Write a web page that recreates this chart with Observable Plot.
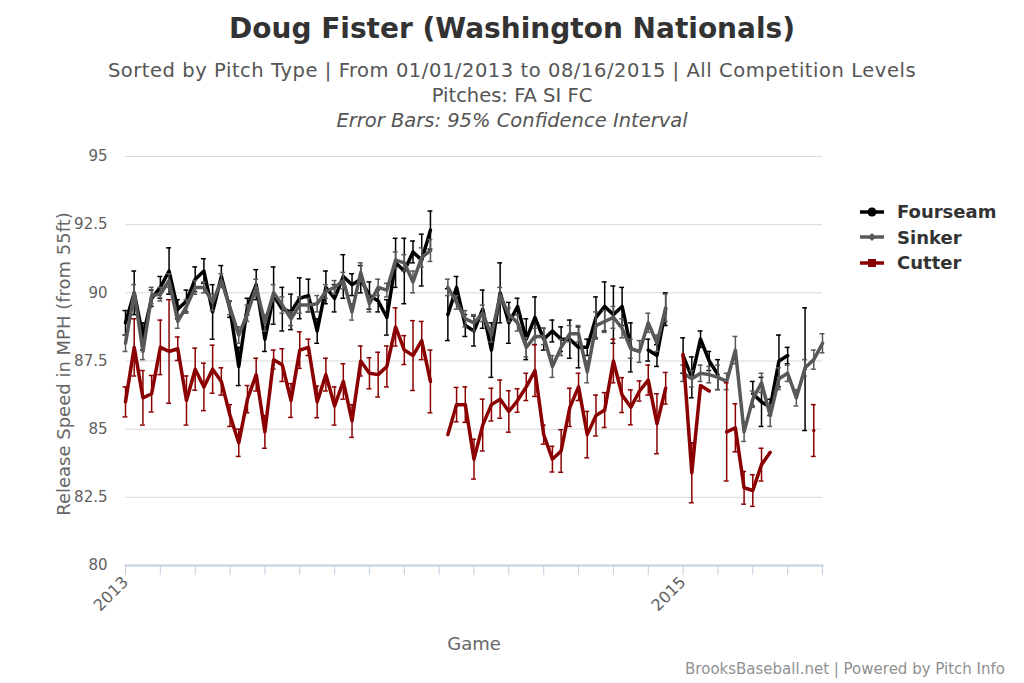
<!DOCTYPE html>
<html>
<head>
<meta charset="utf-8">
<script src="https://cdn.jsdelivr.net/npm/d3@7"></script>
<script src="https://cdn.jsdelivr.net/npm/@observablehq/plot@0.6"></script>
<style>
  html, body { margin: 0; padding: 0; background: #fff; }
  body { width: 1024px; height: 683px; position: relative; overflow: hidden; font-family: "DejaVu Sans", sans-serif; }
  .abs { position: absolute; white-space: nowrap; }
  #chart { position: absolute; left: 0; top: 0; }
</style>
</head>
<body>
<div id="chart"></div>
<div class="abs" id="title" style="left:0;width:1024px;top:12px;text-align:center;font-size:28px;font-weight:bold;color:#333;">Doug Fister (Washington Nationals)</div>
<div class="abs" style="left:0;width:1024px;top:58px;text-align:center;font-size:19.5px;color:#555;line-height:25px;"><span style="letter-spacing:0.55px">Sorted by Pitch Type | From 01/01/2013 to 08/16/2015 | All Competition Levels</span><br>Pitches: FA SI FC<br><i>Error Bars: 95% Confidence Interval</i></div>
<div class="abs" style="left:0;top:0;transform:translate(63px,364px) translate(-50%,-50%) rotate(-90deg);font-size:18px;color:#666;">Release Speed in MPH (from 55ft)</div>
<div class="abs" style="left:474px;top:633px;transform:translateX(-50%);font-size:18px;color:#666;">Game</div>
<div class="abs" style="right:19px;top:660px;font-size:15px;color:#909090;">BrooksBaseball.net | Powered by Pitch Info</div>
<div class="abs" id="legend" style="left:858px;top:199px;"></div>
<script>
// ---- data ----
const seriesNames = ["Fourseam", "Sinker", "Cutter"];
const seriesColors = ["#000000", "#585858", "#8b0000"];

const fourseam = [88.9, 90.0, 88.4, 89.8, 90.2, 90.8, 89.4, 89.7, 90.5, 90.8, 89.3, 90.6, 89.4, 87.3,
  89.5, 90.3, 88.3, 89.9, 89.4, 89.3, 89.8, 89.9, 88.6, 90.2, 89.8, 90.6, 90.3,
  90.5, 89.9, 89.7, 89.1, 91.1, 90.8, 91.5, 91.2, 92.3, null,
  89.2, 90.2, 88.8, 88.6, 89.4, 87.9, 90.0, 88.9, 89.5, 88.3, 89.1, 88.3, 88.6, 88.3, 88.3, 88.0, 88.0,
  89.1, 89.5, 89.2, 89.5, 88.0, null, 87.9, 87.7, 89.4, null,
  87.7, 86.9, 88.3, 87.5, 87.0, null, null, null, 86.3, 86.0, 85.8, 87.5, 87.7, null, 87.2, null, null];
const fourseamErr = [0.45, 0.8, 0.5, 0.3, 0.4, 0.85, 0.35, 0.4, 0.45, 0.45, 1.0, 0.4, 0.3, 0.7,
  0.3, 0.55, 0.45, 1.05, 0.8, 0.65, 0.75, 0.6, 0.45, 0.6, 0.5, 0.8, 0.4,
  0.5, 0.5, 0.4, 0.65, 0.9, 1.2, 0.4, 0.95, 0.7, null,
  0.95, 0.4, 0.4, 0.55, 0.7, 1.0, 1.1, 0.75, 0.3, 0.75, 0.75, 0.4, 0.4, 0.45, 0.7, 0.75, 0.3,
  0.75, 0.9, 1.05, 0.7, 0.9, null, 0.4, 0.4, 0.6, null,
  0.65, 0.75, 0.3, 0.35, 0.55, null, null, null, 0.45, 0.9, 0.3, 0.95, 0.3, null, 2.25, null, null];

const sinker = [88.15, 90.0, 87.85, 89.9, 89.95, 90.45, 88.95, 89.5, 90.2, 90.2, 89.65, 90.45, 89.45, 88.45,
  89.25, 90.2, 88.9, 90.0, 89.55, 89.05, 89.55, 89.55, 89.6, 90.05, 90.2, 90.45, 89.3,
  90.75, 89.6, 90.2, 90.1, 91.2, 91.1, 90.4, 91.3, 91.55, null,
  90.2, 89.65, 89.05, 88.9, 89.25, 88.45, 89.9, 89.2, 88.9, 88.0, 88.4, 88.4, 87.3, 88.0, 88.5, 88.5, 87.1,
  88.8, 88.95, 89.1, 88.7, 87.95, 87.85, 88.9, 88.15, 89.45, null,
  87.05, 86.85, 87.05, 87.0, 86.9, 86.75, 87.9, 84.9, 86.1, 86.7, 85.5, 86.85, 87.05, 86.15, 87.25, 87.55, 88.15];
const sinkerErr = [0.3, 0.3, 0.3, 0.3, 0.25, 0.25, 0.25, 0.25, 0.25, 0.2, 0.3, 0.25, 0.25, 0.3,
  0.3, 0.3, 0.3, 0.3, 0.3, 0.25, 0.3, 0.25, 0.3, 0.25, 0.25, 0.3, 0.3,
  0.35, 0.3, 0.3, 0.25, 0.3, 0.3, 0.4, 0.35, 0.4, null,
  0.3, 0.25, 0.3, 0.3, 0.3, 0.25, 0.3, 0.25, 0.3, 0.35, 0.3, 0.3, 0.4, 0.3, 0.3, 0.3, 0.4,
  0.5, 0.4, 0.4, 0.35, 0.35, 0.4, 0.35, 0.3, 0.5, null,
  0.3, 0.3, 0.3, 0.3, 0.45, 0.3, 0.5, 0.35, 0.3, 0.35, 0.4, 0.4, 0.3, 0.3, 0.3, 0.35, 0.35];

const cutter = [86.0, 88.0, 86.15, 86.3, 88.0, 87.85, 87.95, 86.05, 87.2, 86.55, 87.2, 86.75, 85.5, 84.5,
  86.1, 87.0, 84.9, 87.55, 87.35, 86.05, 87.9, 88.0, 86.0, 87.0, 85.85, 86.75, 85.3,
  87.5, 87.05, 87.0, 87.3, 88.75, 87.9, 87.7, 88.25, 86.75, null,
  84.8, 85.9, 85.9, 83.9, 85.15, 85.9, 86.1, 85.65, 86.05, 86.55, 87.15, 84.8, 83.9, 84.2, 85.8, 86.55, 84.8,
  85.5, 85.7, 87.5, 86.25, 85.8, 86.4, 86.8, 85.2, 86.5, null,
  87.75, 83.4, 86.6, 86.4, null, 84.9, 85.05, 82.85, 82.75, 83.7, 84.15, null, null, null, null, 84.95, null];
const cutterErr = [0.55, 1.05, 1.0, 0.67, 1.0, 1.9, 0.43, 0.9, 0.77, 0.87, 0.88, 0.5, 0.4, 0.5,
  0.5, 0.6, 0.6, 0.35, 0.6, 0.62, 0.67, 0.3, 0.58, 0.6, 0.7, 0.65, 0.6,
  0.55, 0.57, 0.82, 0.75, 0.7, 0.53, 1.28, 0.7, 1.15, null,
  null, 0.63, 0.65, 0.73, 0.95, 0.6, 0.7, 0.76, 0.43, 0.5, 0.95, 0.35, 0.47, 0.78, 0.7, 0.5, 0.85,
  0.75, 0.64, 0.8, 0.64, 0.64, 0.37, 0.55, 1.1, 0.58, null,
  null, 1.1, null, null, null, 1.8, 0.88, 0.6, 0.58, 0.6, null, null, null, null, null, 0.95, null];

const yTicks = [80, 82.5, 85, 87.5, 90, 92.5, 95];
const xTickGames = d3.range(0, 81, 4);
const yearLabelGames = [0, 64];
const yearLabels = ["2013", "2015"];

// ---- build table ----
const valuesBySeries = [fourseam, sinker, cutter];
const errBySeries = [fourseamErr, sinkerErr, cutterErr];
const rows = [];
valuesBySeries.forEach((vals, s) => {
  vals.forEach((v, i) => rows.push({series: seriesNames[s], i, v, e: errBySeries[s][i]}));
});
const hasErr = d => d.v != null && d.e != null;

const marks = [
  Plot.gridY(yTicks, {stroke: "#d8d8d8", strokeOpacity: 1, strokeWidth: 1}),
  Plot.frame({anchor: "bottom", stroke: "#c0d0e0", strokeWidth: 2}),
  Plot.axisY({ticks: yTicks, tickSize: 0, tickPadding: 18, fontSize: 15, fill: "#606060", label: null,
    fontFamily: "DejaVu Sans", tickFormat: d => String(d)}),
  Plot.axisX({ticks: xTickGames, tickSize: 10, stroke: "#c0d0e0", strokeWidth: 1, label: null, fill: "#606060",
    fontSize: 16, fontFamily: "DejaVu Sans", tickRotate: -45, tickPadding: 4,
    tickFormat: g => { const k = yearLabelGames.indexOf(g); return k >= 0 ? yearLabels[k] : ""; }})
];

seriesNames.forEach((name, s) => {
  const data = rows.filter(d => d.series === name);
  const ed = data.filter(hasErr);
  const color = seriesColors[s];
  marks.push(
    Plot.ruleX(ed, {x: "i", y1: d => d.v - d.e, y2: d => d.v + d.e, stroke: color, strokeWidth: 1.5}),
    Plot.ruleY(ed, {y: d => d.v + d.e, x1: d => d.i - 0.28, x2: d => d.i + 0.28, stroke: color, strokeWidth: 1.5}),
    Plot.ruleY(ed, {y: d => d.v - d.e, x1: d => d.i - 0.28, x2: d => d.i + 0.28, stroke: color, strokeWidth: 1.5}),
    Plot.line(data, {x: "i", y: "v", stroke: color, strokeWidth: 3.5, strokeLinejoin: "round", strokeLinecap: "round"})
  );
});

const chart = Plot.plot({
  width: 1024,
  height: 683,
  marginLeft: 125,
  marginRight: 202,
  marginTop: 156,
  marginBottom: 118,
  style: {background: "transparent", fontFamily: "DejaVu Sans"},
  x: {domain: [0, 80]},
  y: {domain: [80, 95]},
  marks
});
document.getElementById("chart").appendChild(chart);

// ---- legend (HTML) ----
const legend = document.getElementById("legend");
const symbols = ["circle", "diamond", "square"];
seriesNames.forEach((name, s) => {
  const row = document.createElement("div");
  row.style.cssText = "display:flex;align-items:center;height:25.5px;";
  const c = seriesColors[s];
  let sym;
  if (symbols[s] === "circle") sym = `<circle cx="14" cy="7" r="4.5" fill="${c}"/>`;
  else if (symbols[s] === "diamond") sym = `<path d="M14 3 L18 7 L14 11 L10 7 Z" fill="${c}"/>`;
  else sym = `<rect x="10" y="3" width="8" height="8" fill="${c}"/>`;
  row.innerHTML = `<svg width="28" height="14" style="margin-right:11px"><line x1="2" y1="7" x2="26" y2="7" stroke="${c}" stroke-width="3.5"/>${sym}</svg>` +
    `<span style="font-size:18px;font-weight:bold;color:#333">${name}</span>`;
  legend.appendChild(row);
});
</script>
</body>
</html>
